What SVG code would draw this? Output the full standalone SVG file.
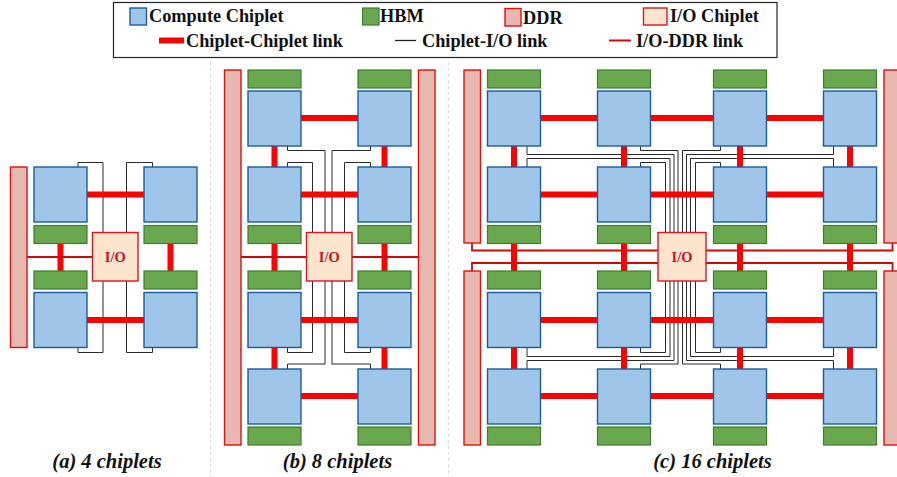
<svg xmlns="http://www.w3.org/2000/svg" width="897" height="477" viewBox="0 0 897 477">
<defs><style>
text{font-family:"Liberation Serif","Times New Roman",serif;font-weight:bold;fill:#111}
.lg{font-size:18.3px}
.cap{font-size:20.5px;font-style:italic;text-anchor:middle}
.iol{font-size:14.5px;fill:#c8141e;text-anchor:middle}
.cc{fill:#9fc5e8;stroke:#1c5c9c;stroke-width:1.4}
.hbm{fill:#6aa84f;stroke:#3f7d2a;stroke-width:1.2}
.ddr{fill:#e6b8af;stroke:#dd1010;stroke-width:1.4}
.io{fill:#fce4cd;stroke:#dc1420;stroke-width:1.4}
.t{stroke:#f00;stroke-width:6;fill:none}
.w{stroke:#2a2a2a;stroke-width:1;fill:none}
.d{stroke:#cc0a0a;stroke-width:1.8;fill:none}
.sep{stroke:#d9d9d9;stroke-width:1;stroke-dasharray:3 3;fill:none}
</style></defs>
<g id="separators"><path class="sep" d="M210.500 62V477M448.500 62V477"/></g>
<g id="legend">
<rect x="113.500" y="2.500" width="663.500" height="55" fill="#fff" stroke="#222" stroke-width="1.2"/>
<rect class="cc" x="130" y="8" width="16.500" height="17"/><text class="lg" x="149" y="22">Compute Chiplet</text>
<rect class="hbm" x="362.500" y="8" width="16.500" height="17"/><text class="lg" x="380" y="22">HBM</text>
<rect class="ddr" x="505" y="8.500" width="16" height="17.500"/><text class="lg" x="523" y="24">DDR</text>
<rect class="io" x="643.500" y="8" width="23.500" height="17"/><text class="lg" x="670" y="22">I/O Chiplet</text>
<path class="t" d="M159 40.500H184"/><text class="lg" x="186" y="47">Chiplet-Chiplet link</text>
<path stroke="#222" stroke-width="1.300" d="M395 40.500H416"/><text class="lg" x="422" y="47">Chiplet-I/O link</text>
<path stroke="#cc0a0a" stroke-width="2" d="M609 40.500H631"/><text class="lg" x="636" y="47">I/O-DDR link</text>
</g>
<g id="connectors">
<g id="wires">
<path class="w" d="M78 167V162.500H103V233M152.500 167V162.500H126.500V233M78 347V352.500H103V281M152.500 347V352.500H126.500V281"/>
<path class="w" d="M287.500 146V150.500H325V233M370.500 146V150.500H332V233M287.500 167V162.500H312.500V233M370.500 167V162.500H344.500V233M287.500 347V352.500H312.500V281M370.500 347V352.500H344.500V281M287.500 369V364H325V281M370.500 369V364H332V281"/>
<path class="w" d="M640.500 146V150.500H678V233M720.500 146V150.500H682.500V233M527 146V154.500H674V233M833.500 146V154.500H686.500V233M527 167V158.500H670V233M833.500 167V158.500H690.500V233M640.500 167V162.500H665.500V233M720.500 167V162.500H695.500V233"/>
<path class="w" d="M640.500 347V352.500H665.500V281M720.500 347V352.500H695.500V281M527 347V356.500H670V281M833.500 347V356.500H690.500V281M527 369V360.500H674V281M833.500 369V360.500H686.500V281M640.500 369V364H678V281M720.500 369V364H682.500V281"/>
</g>
<g id="thick-links">
<path class="t" d="M87 194.500H144M87 320H144M60.500 243V271M170.500 243V271"/>
<path class="t" d="M301 118H358M301 194.500H358M301 320H358M301 396H358M274.500 146V167M384.500 146V167M274.500 243V271M384.500 243V271M274.500 347V369M384.500 347V369"/>
</g>
<g id="ddr-links-ab">
<path class="d" d="M27 257H93M241 257H307M352 257H418"/>
</g>
<g id="ddr-links-c">
<path class="d" d="M472 243V250.500H658M706 250.500H892.500V243M472 271V263H658M706 263H892.500V271"/>
</g>
<g id="thick-links-c">
<path class="t" d="M540.500 118H597.500M650.500 118H713.500M766.500 118H823.500M540.500 194.500H597.500M650.500 194.500H713.500M766.500 194.500H823.500M540.500 320H597.500M650.500 320H713.500M766.500 320H823.500M540.500 396H597.500M650.500 396H713.500M766.500 396H823.500"/>
<path class="t" d="M514 146V167M624 146V167M740 146V167M850 146V167M514 243V271M624 243V271M740 243V271M850 243V271M514 347V369M624 347V369M740 347V369M850 347V369"/>
</g>
</g>
<g id="panel-a">
<rect id="a-ddr" class="ddr" x="10.500" y="167" width="16.500" height="180.500"/>
<rect id="a-c1" class="cc" x="34" y="167" width="53" height="55"/>
<rect id="a-c2" class="cc" x="144" y="167" width="53" height="55"/>
<rect id="a-c3" class="cc" x="34" y="292.500" width="53" height="55"/>
<rect id="a-c4" class="cc" x="144" y="292.500" width="53" height="55"/>
<rect id="a-h1" class="hbm" x="34" y="225.500" width="53" height="18"/>
<rect id="a-h2" class="hbm" x="144" y="225.500" width="53" height="18"/>
<rect id="a-h3" class="hbm" x="34" y="271" width="53" height="18"/>
<rect id="a-h4" class="hbm" x="144" y="271" width="53" height="18"/>
<g id="a-io"><rect class="io" x="92.500" y="232.500" width="45.500" height="48.500"/><text class="iol" x="115.300" y="262">I/O</text></g>
</g>
<g id="panel-b">
<rect id="b-ddr1" class="ddr" x="224.500" y="70" width="16.500" height="375"/>
<rect id="b-ddr2" class="ddr" x="418.500" y="70" width="16.500" height="375"/>
<rect id="b-c1" class="cc" x="248" y="91" width="53" height="55"/>
<rect id="b-c2" class="cc" x="358" y="91" width="53" height="55"/>
<rect id="b-c3" class="cc" x="248" y="167" width="53" height="55"/>
<rect id="b-c4" class="cc" x="358" y="167" width="53" height="55"/>
<rect id="b-c5" class="cc" x="248" y="292.500" width="53" height="55"/>
<rect id="b-c6" class="cc" x="358" y="292.500" width="53" height="55"/>
<rect id="b-c7" class="cc" x="248" y="369" width="53" height="55"/>
<rect id="b-c8" class="cc" x="358" y="369" width="53" height="55"/>
<rect id="b-h1" class="hbm" x="248" y="70" width="53" height="18"/>
<rect id="b-h2" class="hbm" x="358" y="70" width="53" height="18"/>
<rect id="b-h3" class="hbm" x="248" y="225.500" width="53" height="18"/>
<rect id="b-h4" class="hbm" x="358" y="225.500" width="53" height="18"/>
<rect id="b-h5" class="hbm" x="248" y="271" width="53" height="18"/>
<rect id="b-h6" class="hbm" x="358" y="271" width="53" height="18"/>
<rect id="b-h7" class="hbm" x="248" y="427" width="53" height="18"/>
<rect id="b-h8" class="hbm" x="358" y="427" width="53" height="18"/>
<g id="b-io"><rect class="io" x="306.500" y="232.500" width="45.500" height="48.500"/><text class="iol" x="329.300" y="262">I/O</text></g>
</g>
<g id="panel-c">
<rect id="c-ddr1" class="ddr" x="464" y="70" width="16.500" height="173"/>
<rect id="c-ddr2" class="ddr" x="884" y="70" width="17" height="173"/>
<rect id="c-ddr3" class="ddr" x="464" y="271" width="16.500" height="174"/>
<rect id="c-ddr4" class="ddr" x="884" y="271" width="17" height="174"/>
<rect id="c-c1" class="cc" x="487.500" y="91" width="53" height="55"/>
<rect id="c-c2" class="cc" x="597.500" y="91" width="53" height="55"/>
<rect id="c-c3" class="cc" x="713.500" y="91" width="53" height="55"/>
<rect id="c-c4" class="cc" x="823.500" y="91" width="53" height="55"/>
<rect id="c-c5" class="cc" x="487.500" y="167" width="53" height="55"/>
<rect id="c-c6" class="cc" x="597.500" y="167" width="53" height="55"/>
<rect id="c-c7" class="cc" x="713.500" y="167" width="53" height="55"/>
<rect id="c-c8" class="cc" x="823.500" y="167" width="53" height="55"/>
<rect id="c-c9" class="cc" x="487.500" y="292.500" width="53" height="55"/>
<rect id="c-c10" class="cc" x="597.500" y="292.500" width="53" height="55"/>
<rect id="c-c11" class="cc" x="713.500" y="292.500" width="53" height="55"/>
<rect id="c-c12" class="cc" x="823.500" y="292.500" width="53" height="55"/>
<rect id="c-c13" class="cc" x="487.500" y="369" width="53" height="55"/>
<rect id="c-c14" class="cc" x="597.500" y="369" width="53" height="55"/>
<rect id="c-c15" class="cc" x="713.500" y="369" width="53" height="55"/>
<rect id="c-c16" class="cc" x="823.500" y="369" width="53" height="55"/>
<rect id="c-h1" class="hbm" x="487.500" y="70" width="53" height="18"/>
<rect id="c-h2" class="hbm" x="597.500" y="70" width="53" height="18"/>
<rect id="c-h3" class="hbm" x="713.500" y="70" width="53" height="18"/>
<rect id="c-h4" class="hbm" x="823.500" y="70" width="53" height="18"/>
<rect id="c-h5" class="hbm" x="487.500" y="225.500" width="53" height="18"/>
<rect id="c-h6" class="hbm" x="597.500" y="225.500" width="53" height="18"/>
<rect id="c-h7" class="hbm" x="713.500" y="225.500" width="53" height="18"/>
<rect id="c-h8" class="hbm" x="823.500" y="225.500" width="53" height="18"/>
<rect id="c-h9" class="hbm" x="487.500" y="271" width="53" height="18"/>
<rect id="c-h10" class="hbm" x="597.500" y="271" width="53" height="18"/>
<rect id="c-h11" class="hbm" x="713.500" y="271" width="53" height="18"/>
<rect id="c-h12" class="hbm" x="823.500" y="271" width="53" height="18"/>
<rect id="c-h13" class="hbm" x="487.500" y="427" width="53" height="18"/>
<rect id="c-h14" class="hbm" x="597.500" y="427" width="53" height="18"/>
<rect id="c-h15" class="hbm" x="713.500" y="427" width="53" height="18"/>
<rect id="c-h16" class="hbm" x="823.500" y="427" width="53" height="18"/>
<g id="c-io"><rect class="io" x="658" y="232.500" width="48" height="48.500"/><text class="iol" x="682" y="262">I/O</text></g>
</g>
<g id="captions">
<text class="cap" x="107" y="468">(a) 4 chiplets</text>
<text class="cap" x="337.500" y="468">(b) 8 chiplets</text>
<text class="cap" x="712.500" y="468">(c) 16 chiplets</text>
</g>
</svg>
